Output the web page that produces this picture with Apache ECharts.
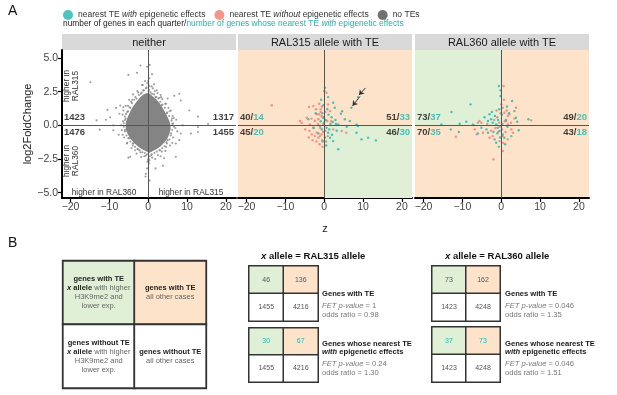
<!DOCTYPE html>
<html>
<head>
<meta charset="utf-8">
<script src="https://cdn.jsdelivr.net/npm/echarts@6/dist/echarts.min.js"></script>
<style>
html, body { margin: 0; padding: 0; background: #fff; }
#chart { width: 617px; height: 395px; }
</style>
</head>
<body>
<div id="chart"></div>
<script>
// --- data ---
var panelTitles = ["neither", "RAL315 allele with TE", "RAL360 allele with TE"];
var xTicks = [-20, -10, 0, 10, 20];
var yTicks = [-5, -2.5, 0, 2.5, 5];

// genes per quarter: upper-left, upper-right, lower-left, lower-right
var neitherCounts = [1423, 1317, 1476, 1455];
var ral315Counts = [40, 51, 45, 46];
var ral315Effect = [14, 33, 20, 30];
var ral360Counts = [73, 49, 70, 43];
var ral360Effect = [37, 20, 35, 18];

// dense centre of the "neither" cloud (outline, z / log2FC)
var neitherCore = [[-0.4, 2.4], [0.4, 2.35], [1.2, 2.15], [2.0, 1.95], [2.8, 1.7], [3.6, 1.35], [4.4, 0.95], [5.1, 0.55],
    [5.6, 0.2], [5.8, -0.2], [5.5, -0.6], [4.9, -1.0], [4.1, -1.3], [3.2, -1.55], [2.2, -1.75], [1.2, -1.9], [0.3, -2.05],
    [-0.7, -1.9], [-1.7, -1.75], [-2.7, -1.55], [-3.7, -1.3], [-4.6, -1.0], [-5.3, -0.65], [-5.8, -0.3], [-5.8, 0.2],
    [-5.3, 0.6], [-4.6, 1.05], [-3.8, 1.45], [-2.9, 1.8], [-2.0, 2.1], [-1.2, 2.3]];

var neitherPoints = [[-14.9, 3.2], [-5.1, 3.75], [-2.9, 3.9], [-2.0, 4.45], [-0.3, 4.35], [0.4, 4.5], [1.0, 3.8], [1.5, 3.05],
    [-0.8, 3.3], [0.3, 3.5], [-1.6, 3.0], [0.9, 2.9], [-0.4, 2.8], [0.2, 2.65], [-1.3, 2.6], [1.7, 2.55], [2.4, 2.4],
    [-2.6, 2.45], [3.2, 2.25], [-3.3, 2.1], [3.6, 1.95], [5.0, 2.0], [6.7, 2.2], [8.0, 2.35], [8.4, 1.85], [4.4, 1.6],
    [-4.4, 1.75], [-5.2, 1.45], [-6.4, 1.35], [-7.2, 1.47], [-8.3, 1.3], [-6.4, 1.1], [-7.4, 0.86], [-10.5, 1.15],
    [-9.8, 0.6], [-10.9, 0.42], [-13.3, 0.37], [-12.5, -0.32], [-9.0, 0.0], [-9.0, -0.37], [-6.8, -0.37], [-6.5, 0.3],
    [-6.2, -0.9], [-7.6, -0.7], [-6.0, 0.65], [5.2, 1.3], [5.8, 1.1], [6.3, 0.7], [7.2, 0.42], [8.9, 0.0], [6.6, -0.1],
    [7.5, -0.45], [8.4, -0.61], [10.6, 1.1], [12.8, 0.66], [15.4, 0.12], [12.8, -0.12], [11.0, -0.61], [12.8, -0.49],
    [5.0, -1.1], [6.2, -1.3], [7.1, -1.35], [8.0, -1.1], [4.6, -1.6], [3.5, -1.95], [2.5, -2.2], [1.0, -2.4], [-1.0, -2.3],
    [-2.0, -2.0], [-3.4, -1.85], [-4.0, -1.5], [-5.5, -1.35], [-4.8, -0.95], [-5.1, -2.4], [-4.6, -2.33], [4.1, -2.45],
    [7.1, -2.33], [0.2, -2.82], [1.9, -3.2], [-0.3, -3.2], [-0.7, -3.8], [0.4, -4.1], [-0.6, -3.6], [3.8, -3.0],
    [-3.5, 0.9], [-6.3, -0.1], [6.2, 0.1], [-1.9, 2.35], [1.9, 2.1], [3.5, 1.5], [4.8, 0.9], [-4.6, 1.3], [-5.8, 0.5],
    [-6.0, -0.35], [5.9, -0.6], [4.7, -1.25], [3.0, -1.85], [-2.5, -1.8], [-3.8, -1.35], [0.8, -2.2], [-0.6, -2.25],
    [-4.1, 1.9], [2.9, 2.05], [-5.4, 1.0], [6.1, 0.5],
    // fuzzy rim of the dense centre
    [-4.2, 1.65], [-3.6, 1.9], [-3.0, 2.0], [-2.4, 2.25], [-1.7, 2.45], [-1.1, 2.6], [-0.6, 2.75], [0.1, 2.55],
    [0.6, 2.45], [1.0, 2.35], [1.5, 2.3], [2.1, 2.1], [2.6, 2.0], [3.1, 1.75], [3.7, 1.55], [4.3, 1.3], [4.9, 0.95],
    [5.4, 0.7], [6.0, 0.35], [6.4, 0.15], [6.2, -0.35], [5.8, -0.75], [5.5, -1.05], [4.8, -1.35], [4.2, -1.55],
    [3.6, -1.7], [2.9, -1.85], [2.2, -1.95], [1.6, -2.05], [0.9, -2.15], [0.4, -2.3], [-0.3, -2.15], [-0.9, -2.05],
    [-1.5, -2.0], [-2.2, -1.85], [-2.8, -1.75], [-3.4, -1.6], [-4.0, -1.35], [-4.6, -1.2], [-5.1, -0.95], [-5.6, -0.75],
    [-6.0, -0.45], [-6.3, 0.15], [-6.0, 0.4], [-5.7, 0.85], [-5.2, 1.05], [-4.8, 1.35],
    [-4.9, 1.9], [-3.9, 2.3], [-2.8, 2.55], [-1.4, 3.0], [1.2, 2.75], [2.2, 2.6], [3.3, 2.1], [4.6, 1.6], [5.5, 1.05],
    [6.6, 0.55], [7.0, -0.2], [6.4, -0.9], [5.6, -1.5], [4.4, -1.9], [3.2, -2.3], [1.8, -2.5], [0.0, -2.55], [-1.8, -2.35],
    [-3.0, -2.1], [-4.3, -1.7], [-5.4, -1.3], [-6.6, -0.7], [-7.0, 0.0], [-6.6, 0.8], [-5.8, 1.45],
    [0.1, 3.0], [-0.2, 3.15], [0.3, 2.9], [0.0, 3.3], [0.1, -2.5], [-0.2, -2.7], [0.3, -2.6]];

var ral315With = [[0.2, 2.8], [0.0, 2.55], [1.0, 2.1], [2.3, 1.68], [2.7, 1.31], [4.3, 0.86], [5.3, 0.45], [6.6, 0.32],
    [7.0, 1.31], [8.7, 2.1], [3.6, 0.07], [8.3, 0.07], [8.7, -0.05], [8.3, -0.55], [9.6, -1.04], [11.3, -0.92],
    [13.3, -1.12], [3.6, -1.78], [2.3, -1.17], [1.5, -0.92], [1.0, -0.55], [0.6, -0.18], [-1.1, -0.05], [-4.1, 0.45],
    [-2.8, -0.18], [-0.3, 0.57], [1.9, 0.6], [2.2, 0.25], [1.6, 0.1], [2.9, 0.4], [3.2, -0.4], [3.0, 0.1], [0.8, 1.2],
    [-0.2, 1.5], [-0.5, 0.9], [-0.9, 0.3], [-1.5, -0.6], [-0.4, -1.2], [0.5, -1.5], [0.2, -0.9], [1.3, -0.3], [-0.1, 0.2],
    [0.4, 0.4], [-0.6, -0.3], [1.1, 0.8], [4.6, 1.05], [-2.2, 0.9], [-0.8, 1.9], [2.0, -0.7], [5.8, -0.1]];

var ral315Without = [[-13.5, 1.49], [-3.9, 1.36], [-2.8, 1.43], [-1.3, 1.61], [-0.9, 1.19], [-1.9, 0.82], [-1.3, 0.82],
    [-0.7, 0.69], [-1.5, 0.45], [-2.4, 0.32], [-3.7, 0.07], [-5.8, 0.19], [-4.9, -0.3], [-3.8, -0.42], [-3.2, -0.67],
    [-2.4, -0.8], [-1.5, -0.92], [-0.7, -0.67], [-1.9, -0.55], [0.6, 2.42], [1.0, 1.56], [1.5, 1.06], [0.8, 0.32],
    [-0.3, 0.07], [2.3, -0.3], [4.5, -0.42], [5.7, -0.55], [-4.5, 0.57], [-6.2, 0.32], [-1.0, -0.2], [-0.5, -1.1],
    [-1.2, -1.4], [-2.0, -1.2], [0.3, -0.4], [-0.2, 0.6], [-0.9, 1.0], [0.3, 1.0], [-1.6, 0.1], [-2.7, -0.2], [-0.4, -1.6],
    [0.9, -0.8], [-3.3, 0.5], [-2.1, 1.2], [-0.6, 1.4], [1.8, 0.3], [-1.1, -0.8], [-3.0, -1.1], [-4.0, -0.9], [0.5, -1.2],
    [-0.3, -0.5]];

var ral360With = [[-0.6, 2.92], [-0.2, 2.18], [-0.2, 2.6], [-7.9, 1.56], [-12.8, 0.99], [-15.4, 0.07], [-10.7, 0.12],
    [-9.0, 0.27], [-7.1, 0.02], [-13.0, -0.3], [-10.9, -0.5], [2.8, 1.81], [3.4, 1.06], [3.8, 0.57], [4.1, 0.27],
    [7.0, 0.45], [4.5, -0.37], [-3.0, 0.82], [-3.4, 0.32], [-2.6, 0.45], [-2.2, 0.19], [-1.3, 0.07], [-0.9, -0.18],
    [-0.4, -0.42], [0.4, -0.67], [0.8, -0.92], [2.6, -0.8], [-1.3, -1.29], [-1.7, -1.04], [-3.8, -0.3], [-3.4, -0.55],
    [-5.1, -0.18], [-2.4, 1.0], [-1.6, 0.7], [-0.5, 1.2], [0.2, 0.8], [1.2, 0.4], [1.6, -0.1], [-0.8, 0.4], [0.3, 0.1],
    [-0.3, -0.9], [1.0, -1.4], [-1.0, -0.6], [2.0, 0.9], [-2.0, -0.5], [-4.3, 0.6], [-6.0, -0.6], [1.5, 1.4], [-0.6, -1.6]];

var ral360Without = [[0.6, 2.92], [0.0, 1.56], [0.4, 1.31], [0.8, 0.94], [1.7, 0.69], [2.1, 0.82], [3.8, 1.31], [1.3, 0.32],
    [1.7, 0.07], [2.6, -0.3], [3.0, -0.55], [1.7, -1.04], [0.4, -0.8], [-0.4, -1.17], [-2.2, -0.8], [-3.0, -0.92],
    [-4.7, -0.55], [-6.3, -0.67], [-6.8, -0.3], [-5.1, 0.19], [-5.6, 0.32], [-6.0, 0.19], [-11.7, -0.85], [0.4, -1.91],
    [-2.0, -2.53], [7.7, 0.37], [-7.3, 0.07], [-1.0, 0.6], [-0.5, 0.2], [0.9, 0.3], [-1.5, -0.2], [0.2, -0.3], [1.1, -0.5],
    [-0.8, -0.5], [1.4, 1.1], [-1.8, 0.4], [2.5, 0.2], [-0.2, 0.9], [-1.2, 1.1], [0.5, -1.3], [-2.6, -0.4], [3.4, 0.5],
    [-3.6, 0.1], [0.7, 1.9], [-0.3, -0.1]];

// two arrows in the RAL315 panel (tail -> head)
var ral315Arrows = [[[10.6, 2.78], [8.95, 2.25]], [[9.2, 2.15], [7.3, 1.45]]];

// 2x2 tables: top-left, top-right, bottom-left, bottom-right
var ral315TeTable = [46, 136, 1455, 4216];
var ral315EffectTable = [30, 67, 1455, 4216];
var ral360TeTable = [73, 162, 1423, 4248];
var ral360EffectTable = [37, 73, 1423, 4248];
var ral315TeStats = ["1", "0.98"];
var ral315EffectStats = ["0.24", "1.30"];
var ral360TeStats = ["0.046", "1.35"];
var ral360EffectStats = ["0.046", "1.51"];

// --- styling ---
var FONT = '"Liberation Sans", Arial, sans-serif';
var TEAL = "#1db7b3", SALMON = "#f27c70", GRAY = "#848484", DARK = "#4d4d4d";
var GREEN = "#dff0d6", PEACH = "#fde3c9";
var X_MIN = -22.2, X_MAX = 22.6, Y_MIN = -5.4, Y_MAX = 5.6;
var panelLeft = [62, 238, 415];
var PANEL_W = 174;

// green quarter of each TE panel: [x0, y0, x1, y1]
var ral315Green = [0, Y_MIN, X_MAX, 0];
var ral360Green = [X_MIN, 0, 0, Y_MAX];

function minus(v)
{
    return String(v).replace("-", "\u2212");
}

function crossLine()
{
    return {
        silent: true, symbol: "none", label: { show: false },
        lineStyle: { color: "#555", width: 1, type: "solid" },
        data: [{ xAxis: 0 }, { yAxis: 0 }]
    };
}

function quadrantSeries(gi, box)
{
    return {
        type: "custom", xAxisIndex: gi, yAxisIndex: gi, data: [box], silent: true, z: 1,
        encode: { x: [0, 2], y: [1, 3] },
        renderItem: function(params, api) {
            var p0 = api.coord([api.value(0), api.value(3)]);
            var p1 = api.coord([api.value(2), api.value(1)]);
            return { type: "rect", shape: { x: p0[0], y: p0[1], width: p1[0] - p0[0], height: p1[1] - p0[1] },
                style: { fill: GREEN } };
        }
    };
}

function quarterSeries(gi, counts, effects)
{
    var pos = [[X_MIN, 0.6], [X_MAX, 0.6], [X_MIN, -0.52], [X_MAX, -0.52]];
    var data = counts.map(function(c, i) {
        return {
            value: pos[i],
            label: {
                position: i % 2 === 0 ? "right" : "left",
                formatter: effects ? "{b|" + c + "/}{t|" + effects[i] + "}" : "{b|" + c + "}"
            }
        };
    });
    return {
        type: "scatter", xAxisIndex: gi, yAxisIndex: gi, data: data, symbolSize: 1, silent: true, z: 6,
        itemStyle: { color: "rgba(0,0,0,0)" },
        label: {
            show: true, distance: 1.5,
            rich: {
                b: { fontFamily: FONT, fontWeight: "bold", fontSize: 9.5, color: "#111" },
                t: { fontFamily: FONT, fontWeight: "bold", fontSize: 9.5, color: TEAL }
            }
        }
    };
}

function tableSeries(gi, values, colors, topColor)
{
    var data = values.map(function(v, i) {
        return {
            value: [i % 2, Math.floor(i / 2), v],
            itemStyle: { color: colors[i] },
            label: { color: i < 2 ? topColor : "#555" }
        };
    });
    return {
        type: "heatmap", xAxisIndex: gi, yAxisIndex: gi, data: data, silent: true,
        itemStyle: { borderColor: "#333", borderWidth: 1.5 },
        label: { show: true, fontFamily: FONT, fontSize: 7, formatter: function(p) { return p.value[2]; } }
    };
}

function text(x, y, str, font, fill, align, extra)
{
    var el = {
        type: "text", x: x, y: y, silent: true,
        style: { text: str, font: font, fill: fill || "#222", align: align || "left", verticalAlign: "middle" }
    };
    if (extra) {
        for (var k in extra) {
            el.style[k] = extra[k];
        }
    }
    return el;
}

function underline(cx, y, w)
{
    return { type: "line", silent: true, shape: { x1: cx - w / 2, y1: y, x2: cx + w / 2, y2: y },
        style: { stroke: "#222", lineWidth: 0.7 } };
}

var statRich = {
    i: { fontStyle: "italic", fill: "#777", fontSize: 7.6, fontFamily: FONT },
    n: { fill: "#777", fontSize: 7.6, fontFamily: FONT },
    b: { fontWeight: "bold", fill: "#1a1a1a", fontSize: 7.6, fontFamily: FONT },
    bi: { fontWeight: "bold", fontStyle: "italic", fill: "#1a1a1a", fontSize: 7.6, fontFamily: FONT }
};

function statBlock(x, yTop, title2, stats)
{
    var out = [];
    if (title2) {
        out.push(text(x, yTop, "{b|Genes whose nearest TE}", "", "#222", "left", { rich: statRich }));
        out.push(text(x, yTop + 8, "{bi|with}{b| epigenetic effects}", "", "#222", "left", { rich: statRich }));
        yTop += 8;
    } else {
        out.push(text(x, yTop, "{b|Genes with TE}", "", "#222", "left", { rich: statRich }));
    }
    out.push(text(x, yTop + 12, "{i|FET p-value}{n| = " + stats[0] + "}", "", "#777", "left", { rich: statRich }));
    out.push(text(x, yTop + 21, "{n|odds ratio = " + stats[1] + "}", "", "#777", "left", { rich: statRich }));
    return out;
}

(function main() {
    var chart = echarts.init(document.getElementById("chart"), null, { renderer: "canvas" });
    var grids = [], xAxes = [], yAxes = [], series = [], graphics = [];

    // panel A grids
    panelLeft.forEach(function(left, i) {
        grids.push({ left: left, top: 50, width: PANEL_W, height: 148, show: i > 0, backgroundColor: PEACH, borderWidth: 0 });
        xAxes.push({
            gridIndex: i, type: "value", min: X_MIN, max: X_MAX,
            name: i === 1 ? "z" : "", nameLocation: "middle", nameGap: 25,
            nameTextStyle: { fontFamily: FONT, fontSize: 11, color: "#1a1a1a" },
            splitLine: { show: false },
            axisLine: { onZero: false, lineStyle: { color: "#000", width: 2 } },
            axisTick: { customValues: xTicks, length: 4, lineStyle: { color: "#000", width: 1.2 } },
            axisLabel: { customValues: xTicks, formatter: minus, fontFamily: FONT, fontSize: 10.5, color: "#444", margin: 4 }
        });
        yAxes.push({
            gridIndex: i, type: "value", min: Y_MIN, max: Y_MAX, show: i === 0,
            name: i === 0 ? "log2FoldChange" : "", nameLocation: "middle", nameGap: 29,
            nameTextStyle: { fontFamily: FONT, fontSize: 11, color: "#1a1a1a" },
            splitLine: { show: false },
            axisLine: { onZero: false, lineStyle: { color: "#000", width: 2 } },
            axisTick: { customValues: yTicks, length: 4, lineStyle: { color: "#000", width: 1.2 } },
            axisLabel: { customValues: yTicks, formatter: function(v) { return minus(v.toFixed(1)); },
                fontFamily: FONT, fontSize: 10.5, color: "#444", margin: 4 }
        });
        graphics.push({ type: "rect", silent: true, shape: { x: left, y: 34, width: PANEL_W, height: 16 }, style: { fill: "#d9d9d9" } });
        graphics.push(text(left + PANEL_W / 2, 42.5, panelTitles[i], "11px " + FONT, "#1a1a1a", "center"));
    });

    // panel A series
    series.push({
        type: "custom", xAxisIndex: 0, yAxisIndex: 0, data: [0], silent: true, z: 2,
        renderItem: function(params, api) {
            var pts = neitherCore.map(function(p) { return api.coord(p); });
            return { type: "polygon", shape: { points: pts }, style: { fill: GRAY } };
        }
    });
    series.push({ type: "scatter", name: "no TEs", xAxisIndex: 0, yAxisIndex: 0, data: neitherPoints, symbolSize: 2.1,
        itemStyle: { color: GRAY }, silent: true, z: 3, markLine: crossLine() });

    series.push(quadrantSeries(1, ral315Green));
    series.push({ type: "scatter", name: "without", xAxisIndex: 1, yAxisIndex: 1, data: ral315Without, symbolSize: 2.4,
        itemStyle: { color: SALMON }, silent: true, z: 3, markLine: crossLine() });
    series.push({ type: "scatter", name: "with", xAxisIndex: 1, yAxisIndex: 1, data: ral315With, symbolSize: 2.4,
        itemStyle: { color: TEAL }, silent: true, z: 4 });
    series.push({
        type: "lines", coordinateSystem: "cartesian2d", xAxisIndex: 1, yAxisIndex: 1, silent: true, z: 6,
        symbol: ["none", "arrow"], symbolSize: 5,
        lineStyle: { color: "#333", width: 1, opacity: 1 },
        data: ral315Arrows.map(function(a) { return { coords: a }; })
    });

    series.push(quadrantSeries(2, ral360Green));
    series.push({ type: "scatter", name: "without", xAxisIndex: 2, yAxisIndex: 2, data: ral360Without, symbolSize: 2.4,
        itemStyle: { color: SALMON }, silent: true, z: 3, markLine: crossLine() });
    series.push({ type: "scatter", name: "with", xAxisIndex: 2, yAxisIndex: 2, data: ral360With, symbolSize: 2.4,
        itemStyle: { color: TEAL }, silent: true, z: 4 });

    series.push(quarterSeries(0, neitherCounts, null));
    series.push(quarterSeries(1, ral315Counts, ral315Effect));
    series.push(quarterSeries(2, ral360Counts, ral360Effect));

    // panel B: schematic + four 2x2 tables
    var tableBoxes = [
        { left: 63, top: 261, width: 143, height: 127 },
        { left: 249, top: 266, width: 69, height: 55 },
        { left: 249, top: 328, width: 69, height: 54 },
        { left: 432, top: 266, width: 68, height: 55 },
        { left: 432, top: 327, width: 68, height: 55 }
    ];
    tableBoxes.forEach(function(b, k) {
        var gi = 3 + k;
        grids.push(b);
        xAxes.push({ gridIndex: gi, type: "category", data: ["c0", "c1"], show: false });
        yAxes.push({ gridIndex: gi, type: "category", data: ["r0", "r1"], inverse: true, show: false });
    });

    var cellColors = [GREEN, PEACH, "#fff", "#fff"];
    var schemeText = [
        "{h|genes with TE}\n{xi|x}{b| allele}{n| with higher}\n{n|H3K9me2 and}\n{n|lower exp.}",
        "{h|genes with TE}\n{n|all other cases}",
        "{h|genes without TE}\n{xi|x}{b| allele}{n| with higher}\n{n|H3K9me2 and}\n{n|lower exp.}",
        "{h|genes without TE}\n{n|all other cases}"
    ];
    series.push({
        type: "heatmap", xAxisIndex: 3, yAxisIndex: 3, silent: true,
        data: schemeText.map(function(t, i) {
            return { value: [i % 2, Math.floor(i / 2), 0], itemStyle: { color: cellColors[i] }, label: { formatter: t } };
        }),
        itemStyle: { borderColor: "#333", borderWidth: 1.8 },
        label: {
            show: true, lineHeight: 9,
            rich: {
                h: { fontFamily: FONT, fontWeight: "bold", fontSize: 7.5, color: "#222", lineHeight: 9 },
                xi: { fontFamily: FONT, fontWeight: "bold", fontStyle: "italic", fontSize: 7.5, color: "#222", lineHeight: 9 },
                b: { fontFamily: FONT, fontWeight: "bold", fontSize: 7.5, color: "#222", lineHeight: 9 },
                n: { fontFamily: FONT, fontSize: 7.5, color: "#666", lineHeight: 9 }
            }
        }
    });
    graphics.push(underline(98.75, 283.5, 50), underline(170.25, 292.5, 50),
        underline(98.75, 347, 61), underline(170.25, 356, 61));

    series.push(tableSeries(4, ral315TeTable, cellColors, "#555"));
    series.push(tableSeries(5, ral315EffectTable, cellColors, TEAL));
    series.push(tableSeries(6, ral360TeTable, cellColors, "#555"));
    series.push(tableSeries(7, ral360EffectTable, cellColors, TEAL));

    // loose text
    graphics.push(text(8, 11, "A", "14px " + FONT, "#111"));
    graphics.push(text(8, 243, "B", "14px " + FONT, "#111"));
    graphics.push(text(63, 23.5, "{k|number of genes in each quarter/}{t|number of genes whose nearest TE }{ti|with}{t| epigenetic effects}",
        "", "#222", "left", { rich: {
            k: { fill: "#222", fontSize: 8.4, fontFamily: FONT },
            t: { fill: TEAL, fontSize: 8.4, fontFamily: FONT },
            ti: { fill: TEAL, fontSize: 8.4, fontFamily: FONT, fontStyle: "italic" }
        } }));

    var small = "8.4px " + FONT;
    graphics.push(text(104, 193, "higher in RAL360", small, "#333", "center"));
    graphics.push(text(191, 193, "higher in RAL315", small, "#333", "center"));
    var rot1 = text(0, 0, "higher in\nRAL315", small, "#333", "center");
    rot1.x = 71; rot1.y = 86; rot1.rotation = Math.PI / 2; rot1.style.lineHeight = 9;
    var rot2 = text(0, 0, "higher in\nRAL360", small, "#333", "center");
    rot2.x = 71; rot2.y = 161; rot2.rotation = Math.PI / 2; rot2.style.lineHeight = 9;
    graphics.push(rot1, rot2);

    var titleRich = {
        xi: { fontWeight: "bold", fontStyle: "italic", fill: "#111", fontSize: 9.5, fontFamily: FONT },
        b: { fontWeight: "bold", fill: "#111", fontSize: 9.5, fontFamily: FONT }
    };
    graphics.push(text(261, 256, "{xi|x}{b| allele = RAL315 allele}", "", "#111", "left", { rich: titleRich }));
    graphics.push(text(445, 256, "{xi|x}{b| allele = RAL360 allele}", "", "#111", "left", { rich: titleRich }));
    graphics = graphics.concat(statBlock(322, 293.5, false, ral315TeStats));
    graphics = graphics.concat(statBlock(322, 344, true, ral315EffectStats));
    graphics = graphics.concat(statBlock(505, 293.5, false, ral360TeStats));
    graphics = graphics.concat(statBlock(505, 344, true, ral360EffectStats));

    chart.setOption({
        animation: false,
        backgroundColor: "#fff",
        textStyle: { fontFamily: FONT },
        legend: {
            left: 58, top: 5, itemWidth: 10, itemHeight: 10, itemGap: 9, icon: "circle",
            data: [{ name: "with" }, { name: "without" }, { name: "no TEs", itemStyle: { color: DARK } }],
            formatter: function(name) {
                if (name === "with") return "nearest TE {i|with} epigenetic effects";
                if (name === "without") return "nearest TE {i|without} epigenetic effects";
                return name;
            },
            textStyle: { fontFamily: FONT, fontSize: 8.5, color: "#333",
                rich: { i: { fontStyle: "italic", fontSize: 8.5, color: "#333", fontFamily: FONT } } },
            selectedMode: false
        },
        grid: grids,
        xAxis: xAxes,
        yAxis: yAxes,
        series: series,
        graphic: { elements: graphics }
    });
})();
</script>
</body>
</html>
